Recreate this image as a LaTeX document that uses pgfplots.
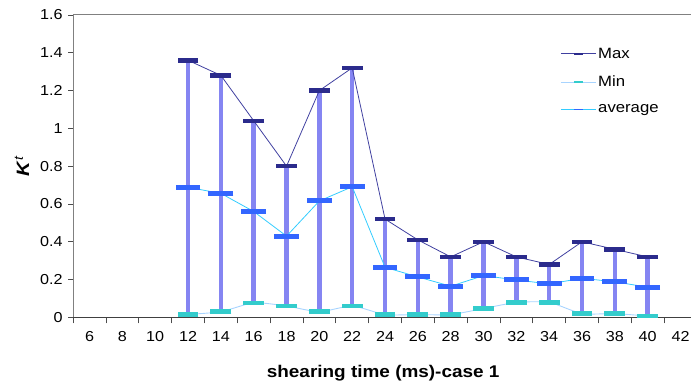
\documentclass[border=0pt]{standalone}
\usepackage{fontspec}
\setmainfont{Liberation Sans}[FakeStretch=1.12]
\usepackage{pgfplots}
\usepackage{pgfplotstable}
\pgfplotsset{compat=1.18}
\definecolor{maxline}{HTML}{4040A0}
\definecolor{maxmark}{HTML}{2B2B8C}
\definecolor{minline}{HTML}{A8D4FF}
\definecolor{minmark}{HTML}{33CCCC}
\definecolor{avgline}{HTML}{33CCFF}
\definecolor{avgmark}{HTML}{3366FF}
\definecolor{barc}{HTML}{8585F2}
\definecolor{axisgray}{HTML}{808080}

\pgfplotstableread{
t  max   min    avg
12 1.36  0.016  0.688
14 1.28  0.030  0.656
16 1.04  0.077  0.560
18 0.80  0.060  0.430
20 1.20  0.030  0.616
22 1.32  0.060  0.691
24 0.52  0.015  0.265
26 0.41  0.015  0.214
28 0.32  0.015  0.165
30 0.40  0.047  0.221
32 0.32  0.079  0.198
34 0.28  0.079  0.177
36 0.40  0.020  0.207
38 0.36  0.020  0.188
40 0.32  0.007  0.160
}\data

\begin{document}
\begin{tikzpicture}
\begin{axis}[
  at={(0,0)}, anchor=south west,
  scale only axis, width=627pt, height=304pt,
  xmin=5, xmax=43, ymin=0, ymax=1.6,
  xtick={6,8,...,42},
  minor xtick={5,7,...,43},
  ytick={0,0.2,...,1.6},
  major x tick style={draw=none},
  minor tick length=6pt,
  major tick length=5pt,
  tick align=outside,
  tick pos=left,
  tick style={color=black!70, line width=0.8pt},
  axis line style={draw=axisgray, line width=1pt},
  /pgf/number format/assume math mode=true,
  /pgf/number format/fixed,
  ticklabel style={font=\fontsize{14.5}{16}\selectfont},
  xticklabel style={yshift=-6pt},
  yticklabel style={xshift=-2pt},
  xlabel={\textbf{shearing time (ms)-case 1}},
  xlabel style={at={(axis description cs:0.497,-0.184)}, anchor=center, font=\fontsize{17}{20}\selectfont},
  ylabel={\textbf{\itshape K}\textsuperscript{\itshape t}},
  ylabel style={at={(axis description cs:-0.082,0.5)}, anchor=center, font=\fontsize{18}{20}\selectfont},
  legend style={at={(axis description cs:0.776,0.905)}, anchor=north west, draw=none, fill=none,
    font=\fontsize{15}{17}\selectfont, row sep=12.5pt,
    /tikz/every even column/.append style={column sep=4pt}},
  legend cell align=left,
  clip=false,
]
% error bars (min to max)
\addplot[draw=none, mark=none, forget plot,
  error bars/.cd, y dir=plus, y explicit,
  error bar style={line width=4.5pt, color=barc}, error mark=none]
  table[x=t, y=min, y error expr=\thisrow{max}-\thisrow{min}] {\data};
% Max
\addplot[color=maxline, line width=0.8pt, mark=-, mark size=10.5pt, forget plot,
  mark options={draw=maxmark, line width=4.5pt, solid}]
  table[x=t, y=max] {\data};
% Min
\addplot[color=minline, line width=0.9pt, smooth, tension=0.4, mark=-, mark size=10.5pt, forget plot,
  mark options={draw=minmark, line width=4.5pt, solid}]
  table[x=t, y=min] {\data};
% average
\addplot[color=avgline, line width=0.8pt, mark=-, mark size=12.5pt, forget plot,
  mark options={draw=avgmark, line width=5pt, solid}]
  table[x=t, y=avg] {\data};

\addlegendimage{legend image code/.code={
  \draw[maxline, line width=0.8pt] (0pt,0pt) -- (35pt,0pt);
  \draw[maxmark, line width=1.6pt] (13pt,0pt) -- (22pt,0pt);}}
\addlegendentry{Max}
\addlegendimage{legend image code/.code={
  \draw[minline, line width=0.9pt] (0pt,0pt) -- (35pt,0pt);
  \draw[minmark, line width=1.6pt] (13pt,0pt) -- (22pt,0pt);}}
\addlegendentry{Min}
\addlegendimage{legend image code/.code={
  \draw[avgline, line width=1pt] (0pt,0pt) -- (35pt,0pt);
  \draw[avgmark, line width=1.6pt] (13pt,0pt) -- (22pt,0pt);}}
\addlegendentry{average}

\draw[black!75, line width=1pt] (axis cs:5,0) -- (axis cs:43,0);
\end{axis}
\pgfresetboundingbox
\path[use as bounding box] (-73.5pt,-69pt) rectangle (621pt,319pt);
\end{tikzpicture}
\end{document}
